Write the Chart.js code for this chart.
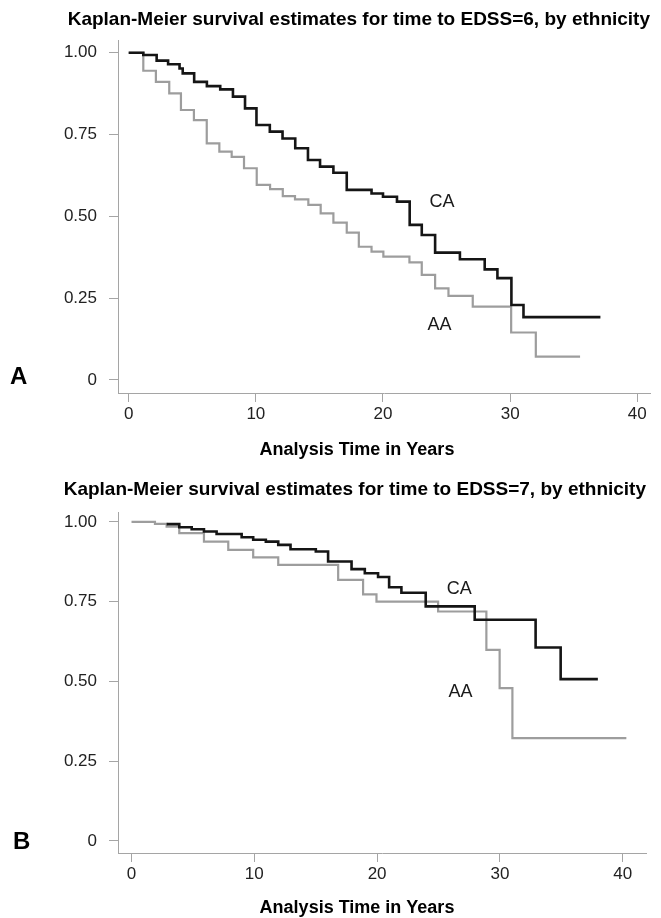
<!DOCTYPE html>
<html><head><meta charset="utf-8">
<script src="https://cdn.jsdelivr.net/npm/chart.js@4/dist/chart.umd.min.js"></script>
<style>
html,body{margin:0;padding:0;background:#fff;}
#wrap{position:relative;width:661px;height:918px;overflow:hidden;}
canvas{position:absolute;left:0;}
</style></head><body>
<div id="wrap">
<canvas id="cA" width="661" height="459" style="top:0;width:661px;height:459px"></canvas>
<canvas id="cB" width="661" height="459" style="top:459px;width:661px;height:459px"></canvas>
</div>
<script>
// ---- text ----
const titleA = "Kaplan-Meier survival estimates for time to EDSS=6, by ethnicity";
const titleB = "Kaplan-Meier survival estimates for time to EDSS=7, by ethnicity";
const xAxisTitle = "Analysis Time in Years";
const panelLetters = ["A", "B"];
const seriesNames = ["CA", "AA"];

// ---- ticks ----
const xTicks = [0, 10, 20, 30, 40];
const yTicks = [0, 0.25, 0.5, 0.75, 1];
const yTickLabels = ["0", "0.25", "0.50", "0.75", "1.00"];

// ---- panel A: time to EDSS=6 ----
const aCaTime = [0, 1.15, 2.2, 3.1, 4.0, 4.25, 5.15, 6.15, 7.2, 8.2, 9.15, 10.05, 11.1, 12.1, 13.1, 14.1, 15.05, 16.1, 17.15, 19.1, 20.0, 21.1, 22.1, 23.05, 24.1, 26.05, 28.0, 29.0, 30.1, 31.05, 37.1];
const aCaSurv = [1.000, 0.993, 0.976, 0.965, 0.952, 0.937, 0.911, 0.898, 0.888, 0.866, 0.830, 0.779, 0.759, 0.738, 0.708, 0.672, 0.652, 0.633, 0.581, 0.570, 0.560, 0.545, 0.474, 0.443, 0.389, 0.369, 0.338, 0.311, 0.229, 0.192, 0.192];
const aAaTime = [0, 1.15, 2.14, 3.19, 4.11, 5.13, 6.14, 7.13, 8.1, 9.07, 10.07, 11.12, 12.12, 13.08, 14.13, 15.1, 16.1, 17.15, 18.1, 19.1, 20.03, 22.08, 23.05, 24.1, 25.15, 27.06, 30.08, 32.02, 35.5];
const aAaSurv = [1.0, 0.945, 0.911, 0.876, 0.825, 0.794, 0.723, 0.698, 0.682, 0.647, 0.596, 0.583, 0.562, 0.552, 0.535, 0.509, 0.481, 0.450, 0.407, 0.392, 0.377, 0.359, 0.321, 0.280, 0.257, 0.224, 0.145, 0.071, 0.071];

// ---- panel B: time to EDSS=7 ----
const bCaTime = [2.86, 3.89, 4.90, 5.90, 6.93, 8.97, 9.91, 10.94, 11.95, 12.95, 15.01, 16.01, 17.92, 19.0, 20.08, 20.98, 21.98, 23.96, 27.95, 32.91, 34.95, 37.98];
const bCaSurv = [0.993, 0.983, 0.977, 0.970, 0.962, 0.952, 0.944, 0.938, 0.928, 0.914, 0.907, 0.876, 0.852, 0.839, 0.827, 0.795, 0.778, 0.735, 0.693, 0.606, 0.507, 0.507];
const bAaTime = [0, 1.91, 2.86, 3.89, 5.90, 7.88, 9.91, 11.95, 16.83, 18.86, 19.95, 24.97, 28.9, 29.98, 31.02, 40.3];
const bAaSurv = [1.0, 0.994, 0.985, 0.965, 0.938, 0.912, 0.889, 0.865, 0.818, 0.773, 0.750, 0.719, 0.599, 0.479, 0.322, 0.322];

// ---- series label anchors (data coords) ----
const aLabelX = [24.65, 24.45];
const aLabelY = [0.544, 0.168];
const bLabelX = [26.7, 26.8];
const bLabelY = [0.79, 0.467];

const FONT = '"Liberation Sans", Arial, Helvetica, sans-serif';
Chart.defaults.font.family = FONT;

function pts(t, s) { return t.map((x, i) => ({ x: x, y: s[i] })); }

const panelText = {
  id: 'panelText',
  afterDatasetsDraw(chart, args, o) {
    const ctx = chart.ctx, xs = chart.scales.x, ys = chart.scales.y;
    ctx.save();
    ctx.fillStyle = '#1a1a1a';
    ctx.textAlign = 'center';
    ctx.textBaseline = 'middle';
    ctx.font = '18px ' + FONT;
    o.names.forEach((n, i) => ctx.fillText(n, xs.getPixelForValue(o.lx[i]), ys.getPixelForValue(o.ly[i])));
    ctx.fillStyle = '#000';
    ctx.font = 'bold 18px ' + FONT;
    ctx.fillText(o.axisTitle, o.axisTitleX, o.axisTitleY);
    ctx.textAlign = 'left';
    ctx.font = 'bold 24px ' + FONT;
    ctx.fillText(o.letter, o.letterX, o.letterY);
    ctx.restore();
  }
};

function makeChart(id, c) {
  return new Chart(document.getElementById(id), {
    type: 'line',
    data: {
      datasets: [
        { label: seriesNames[0], data: pts(c.caT, c.caS), borderColor: '#151515', borderWidth: 2.6, stepped: true, pointRadius: 0, fill: false },
        { label: seriesNames[1], data: pts(c.aaT, c.aaS), borderColor: '#9d9d9d', borderWidth: 2.2, stepped: true, pointRadius: 0, fill: false }
      ]
    },
    options: {
      responsive: false, animation: false, devicePixelRatio: 1,
      layout: { padding: { left: 0, right: c.padRight, top: 0, bottom: 0 } },
      plugins: {
        legend: { display: false }, tooltip: { enabled: false },
        title: { display: true, text: c.title, align: 'end', color: '#000',
                 font: { size: 19, weight: 'bold', lineHeight: 1.2 }, padding: { top: c.tTop, bottom: c.tBot } },
        panelText: { names: seriesNames, lx: c.lx, ly: c.ly, axisTitle: xAxisTitle, axisTitleX: 357, axisTitleY: c.axY,
                     letter: c.letter, letterX: c.letterX, letterY: c.letterY }
      },
      scales: {
        x: {
          type: 'linear', min: c.xMin, max: c.xMax,
          afterBuildTicks: s => { s.ticks = xTicks.map(v => ({ value: v })); },
          afterFit: s => { s.height = c.xH; },
          ticks: { color: '#222', font: { size: 17 }, padding: 2, maxRotation: 0, autoSkip: false, callback: v => String(v) },
          grid: { display: true, drawOnChartArea: false, drawTicks: true, tickLength: 9, color: '#a5a5a5', lineWidth: 1 },
          border: { display: true, color: '#a5a5a5', width: 1 }
        },
        y: {
          type: 'linear', min: c.yMin, max: c.yMax,
          afterBuildTicks: s => { s.ticks = yTicks.map(v => ({ value: v })); },
          afterFit: s => { s.width = 118; },
          ticks: { color: '#222', font: { size: 17 }, padding: 12, autoSkip: false, callback: v => yTickLabels[yTicks.indexOf(v)] },
          grid: { display: true, drawOnChartArea: false, drawTicks: true, tickLength: 9, color: '#a5a5a5', lineWidth: 1 },
          border: { display: true, color: '#a5a5a5', width: 1 }
        }
      }
    },
    plugins: [panelText]
  });
}

makeChart('cA', {
  caT: aCaTime, caS: aCaSurv, aaT: aAaTime, aaS: aAaSurv, title: titleA,
  padRight: 11, tTop: 8, tBot: 9.2, xH: 66, xMin: -0.84, xMax: 41.0, yMin: -0.04, yMax: 1.039,
  lx: aLabelX, ly: aLabelY, axY: 450, letter: panelLetters[0], letterX: 10, letterY: 377
});
makeChart('cB', {
  caT: bCaTime, caS: bCaSurv, aaT: bAaTime, aaS: bAaSurv, title: titleB,
  padRight: 15, tTop: 19.6, tBot: 10.6, xH: 65, xMin: -1.1, xMax: 41.9, yMin: -0.038, yMax: 1.031,
  lx: bLabelX, ly: bLabelY, axY: 449, letter: panelLetters[1], letterX: 13, letterY: 383
});
</script>
</body></html>
